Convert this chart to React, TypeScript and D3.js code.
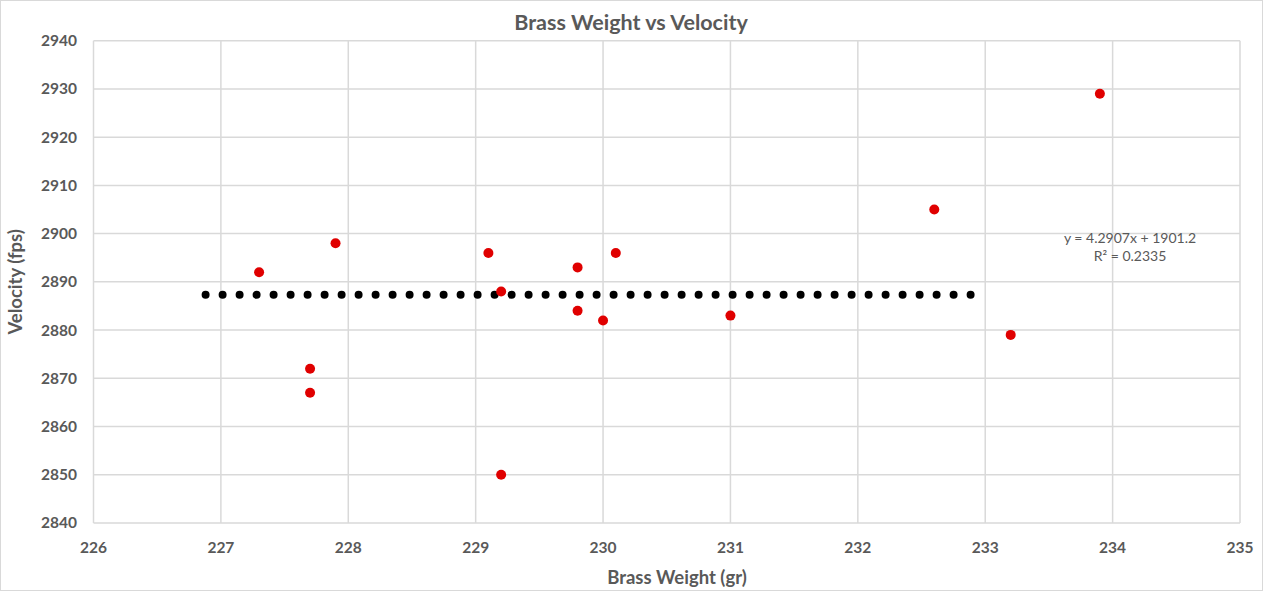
import React from "react";
import * as d3 from "d3";

const weights = [227.3, 227.7, 227.7, 227.9, 229.1, 229.2, 229.2, 229.8, 229.8, 230.0, 230.1, 231.0, 232.6, 233.2, 233.9];
const velocities = [2892, 2872, 2867, 2898, 2896, 2888, 2850, 2893, 2884, 2882, 2896, 2883, 2905, 2879, 2929];
const xTicks = [226, 227, 228, 229, 230, 231, 232, 233, 234, 235];
const yTicks = [2840, 2850, 2860, 2870, 2880, 2890, 2900, 2910, 2920, 2930, 2940];
const trendX = [226.88, 232.93];
const trendY = [2887.3, 2887.3];
const equationLines = ["y = 4.2907x + 1901.2", "R² = 0.2335"];

const W = 1263, H = 591;
const L = 93.5, R = 1240, T = 40.7, B = 523;
const FONT = "Lato, 'Open Sans', sans-serif";
const GRAY = "#595959";

export default function App() {
  const x = d3.scaleLinear().domain([226, 235]).range([L, R]);
  const y = d3.scaleLinear().domain([2840, 2940]).range([B, T]);
  const trend = d3.line<number>().x((d) => x(d)).y((_, i) => y(trendY[i]));
  return (
    <svg width={W} height={H} style={{ position: "absolute", left: 0, top: 0, background: "#fff" }}>
      <rect x={0.5} y={0.5} width={W - 1} height={H - 1} fill="#fff" stroke="#d9d9d9" />
      {xTicks.map((t) => (
        <line key={"gx" + t} x1={x(t)} x2={x(t)} y1={T} y2={B} stroke="#d9d9d9" strokeWidth={1.5} />
      ))}
      {yTicks.map((t) => (
        <line key={"gy" + t} x1={L} x2={R} y1={y(t)} y2={y(t)} stroke="#d9d9d9" strokeWidth={1.5} />
      ))}
      {yTicks.map((t) => (
        <text key={"ty" + t} x={77} y={y(t)} dy="0.35em" textAnchor="end" fontFamily={FONT} fontWeight="bold" fontSize={15.5} fill={GRAY}>{t}</text>
      ))}
      {xTicks.map((t) => (
        <text key={"tx" + t} x={x(t)} y={553} textAnchor="middle" fontFamily={FONT} fontWeight="bold" fontSize={15.5} fill={GRAY}>{t}</text>
      ))}
      <text x={631} y={30} textAnchor="middle" fontFamily={FONT} fontWeight="bold" fontSize={21.5} fill={GRAY}>Brass Weight vs Velocity</text>
      <text x={677} y={584} textAnchor="middle" fontFamily={FONT} fontWeight="bold" fontSize={18.5} fill={GRAY}>Brass Weight (gr)</text>
      <text transform={`translate(22,${(T + B) / 2}) rotate(-90)`} textAnchor="middle" fontFamily={FONT} fontWeight="bold" fontSize={18.5} fill={GRAY}>Velocity (fps)</text>
      <path d={trend(trendX) || ""} fill="none" stroke="#000" strokeWidth={8} strokeLinecap="round" strokeDasharray="0 17" />
      {weights.map((w, i) => (
        <circle key={"p" + i} cx={x(w)} cy={y(velocities[i])} r={5} fill="#e00000" />
      ))}
      {equationLines.map((s, i) => (
        <text key={"eq" + i} x={1130} y={243 + i * 18} textAnchor="middle" fontFamily={FONT} fontSize={14} fill={GRAY}>{s}</text>
      ))}
    </svg>
  );
}
